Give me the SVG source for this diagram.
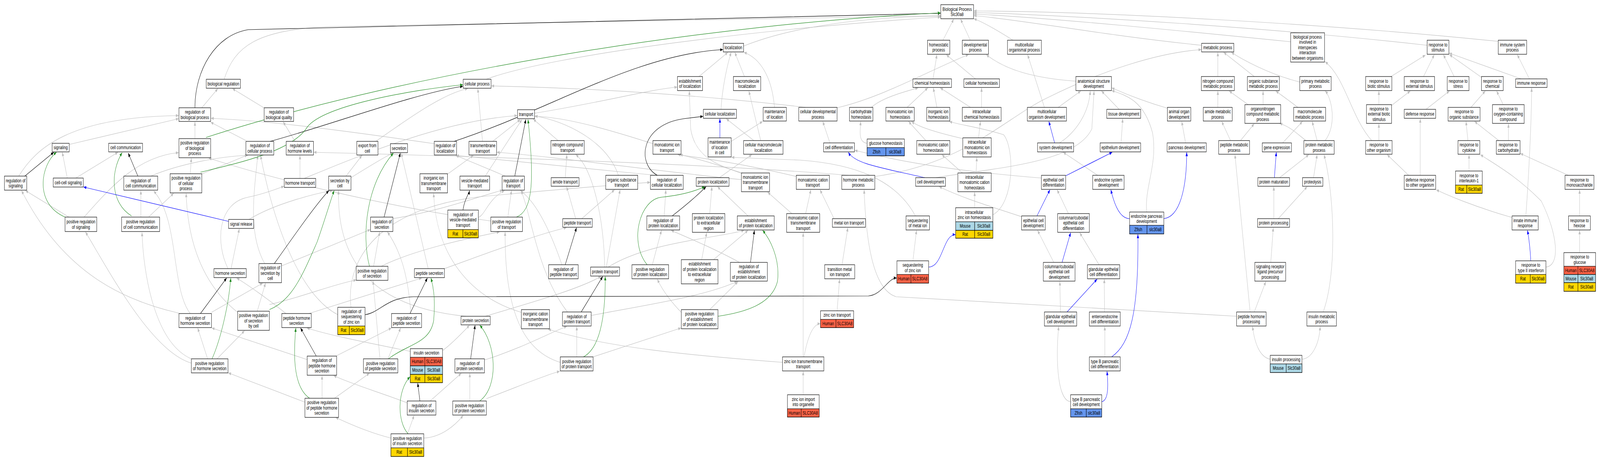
<svg xmlns="http://www.w3.org/2000/svg" width="5803" height="1173" viewBox="0 0 5803 1173" preserveAspectRatio="none">
<style>
svg{width:100vw;height:100vh}
text{font-family:"Liberation Sans",Arial,Helvetica,sans-serif;font-size:13px;text-anchor:middle;fill:#000}
.n rect{fill:#fff;stroke:#000;stroke-width:1.2}
.n rect.hu{fill:#FF6347}.n rect.mo{fill:#ADD8E6}.n rect.ra{fill:#FFD700}.n rect.zf{fill:#6495ED}
#connectors path{fill:none;stroke-width:1.2}
.g{stroke:#C0C0C0;marker-end:url(#ag)}
.k{stroke:#000;marker-end:url(#ak)}
.gr{stroke:#228B22;marker-end:url(#agr)}
.b{stroke:#0000FF;marker-end:url(#ab)}
</style>
<defs>
<marker id="ag" viewBox="0 0 10 8" refX="10" refY="4" markerWidth="10" markerHeight="8" markerUnits="userSpaceOnUse" orient="auto"><path d="M0,0L10,4L0,8z" fill="#C0C0C0"/></marker>
<marker id="ak" viewBox="0 0 10 8" refX="10" refY="4" markerWidth="10" markerHeight="8" markerUnits="userSpaceOnUse" orient="auto"><path d="M0,0L10,4L0,8z" fill="#000"/></marker>
<marker id="agr" viewBox="0 0 10 8" refX="10" refY="4" markerWidth="10" markerHeight="8" markerUnits="userSpaceOnUse" orient="auto"><path d="M0,0L10,4L0,8z" fill="#228B22"/></marker>
<marker id="ab" viewBox="0 0 10 8" refX="10" refY="4" markerWidth="10" markerHeight="8" markerUnits="userSpaceOnUse" orient="auto"><path d="M0,0L10,4L0,8z" fill="#0000FF"/></marker>
</defs>
<rect width="5803" height="1173" fill="#fff"/>
<g id="connectors">
<path class="g" d="M244,456L226,390"/>
<path class="g" d="M275,456L428,390"/>
<path class="g" d="M251,370L648,304"/>
<path class="g" d="M68,451C130,380 250,300 648,296"/>
<path class="g" d="M250,556L92,488"/>
<path class="g" d="M305,556C400,480 500,400 648,391"/>
<path class="g" d="M547,451C650,420 800,400 899,398"/>
<path class="g" d="M511,556L511,488"/>
<path class="g" d="M540,555L630,495"/>
<path class="g" d="M732,276L790,227"/>
<path class="g" d="M813,203C850,120 930,75 1200,68L3411,40"/>
<path class="g" d="M707,355L707,312"/>
<path class="g" d="M690,445L694,405"/>
<path class="g" d="M730,446L898,397"/>
<path class="g" d="M892,360L764,313"/>
<path class="g" d="M957,276L843,227"/>
<path class="g" d="M1070,362L1027,312"/>
<path class="g" d="M1088,457L1088,398"/>
<path class="g" d="M1103,457C1300,400 1600,310 1876,296"/>
<path class="g" d="M1363,362C1450,320 1600,240 1697,227"/>
<path class="g" d="M1255,451L1313,398"/>
<path class="g" d="M1273,455C1330,430 1400,400 1425,392"/>
<path class="g" d="M903,562C1000,520 1150,495 1205,488"/>
<path class="g" d="M838,688L868,586"/>
<path class="g" d="M827,688C780,620 790,520 900,505C950,498 1000,485 1030,477"/>
<path class="g" d="M649,802C450,770 230,700 78,488"/>
<path class="g" d="M690,803C620,740 650,560 557,489"/>
<path class="g" d="M767,800L953,725"/>
<path class="g" d="M753,919L717,840"/>
<path class="g" d="M787,919L887,847"/>
<path class="g" d="M697,920C560,880 520,700 515,595"/>
<path class="g" d="M694,930C550,900 400,700 310,594"/>
<path class="g" d="M1021,681L1343,588"/>
<path class="g" d="M960,675C900,600 920,500 935,398"/>
<path class="g" d="M933,797L963,725"/>
<path class="g" d="M862,800C720,720 680,600 675,495"/>
<path class="g" d="M977,780C1100,760 1200,730 1292,717"/>
<path class="g" d="M1425,560C1600,540 1750,500 1823,487"/>
<path class="g" d="M1355,682L1377,594"/>
<path class="g" d="M1383,682C1500,640 1700,610 1812,594"/>
<path class="g" d="M1225,806C1100,760 1000,600 945,398"/>
<path class="g" d="M1273,787C1250,650 1400,520 1800,500C2100,480 2300,470 2358,467"/>
<path class="g" d="M1037,803C980,770 900,730 858,712"/>
<path class="g" d="M1120,803L1530,712"/>
<path class="g" d="M1114,921L768,840"/>
<path class="g" d="M1221,911L1420,840"/>
<path class="g" d="M1168,1020L1168,962"/>
<path class="g" d="M1213,1020L1340,956"/>
<path class="g" d="M1106,1030L828,955"/>
<path class="g" d="M1407,919L1453,840"/>
<path class="g" d="M1378,919L1353,719"/>
<path class="g" d="M1490,803C1480,700 1450,640 1405,594"/>
<path class="g" d="M1553,688L1455,392"/>
<path class="g" d="M1612,688C1800,640 1950,600 2055,583"/>
<path class="g" d="M1488,900C1350,880 1200,860 1113,840"/>
<path class="g" d="M1605,898C1640,880 1680,850 1703,833"/>
<path class="g" d="M1477,1032C1400,1010 1280,985 1210,962"/>
<path class="g" d="M1560,1027L1673,956"/>
<path class="g" d="M1478,1111L1502,1064"/>
<path class="g" d="M1418,1122C1350,1110 1280,1090 1217,1069"/>
<path class="g" d="M1537,1122C1600,1120 1650,1090 1680,1064"/>
<path class="g" d="M1757,922C1900,890 2000,850 2056,836"/>
<path class="g" d="M1704,1027L1704,956"/>
<path class="g" d="M1764,1021C1880,990 1980,960 2030,951"/>
<path class="g" d="M1760,810C1950,770 2100,740 2180,708"/>
<path class="g" d="M1690,810C1400,790 1220,700 1228,488"/>
<path class="g" d="M1623,446L1717,398"/>
<path class="g" d="M1750,362L1733,227"/>
<path class="g" d="M1787,362L1887,306"/>
<path class="g" d="M1760,451L1893,306"/>
<path class="g" d="M1735,557C1760,550 1770,510 1830,488"/>
<path class="g" d="M1833,451L1653,398"/>
<path class="g" d="M1842,556L1855,488"/>
<path class="g" d="M1780,566C1400,530 1000,460 757,405"/>
<path class="g" d="M1575,368C1300,340 1000,310 765,303"/>
<path class="g" d="M2024,360L1934,305"/>
<path class="g" d="M2050,455L2056,396"/>
<path class="g" d="M2088,560L2055,478"/>
<path class="g" d="M2110,560L2229,486"/>
<path class="g" d="M2243,449C2200,360 2050,310 1940,297"/>
<path class="g" d="M2193,684C2190,560 2150,430 2088,396"/>
<path class="g" d="M2199,684L2249,486"/>
<path class="g" d="M2206,684C2350,620 2600,610 2699,590"/>
<path class="g" d="M2038,678C2000,600 1950,520 1887,488"/>
<path class="g" d="M2144,808C2350,780 2550,760 2674,721"/>
<path class="g" d="M2058,799C1950,700 1930,560 1890,488"/>
<path class="g" d="M2092,914L2092,836"/>
<path class="g" d="M2032,928C1900,900 1830,800 1832,594"/>
<path class="g" d="M2151,914L2470,840"/>
<path class="g" d="M1891,800C1700,760 1580,650 1573,495"/>
<path class="g" d="M2409,553L2415,486"/>
<path class="g" d="M2366,678L2399,590"/>
<path class="g" d="M2381,449C2100,430 1800,410 1655,398"/>
<path class="g" d="M2368,368C2200,330 2050,300 1940,298"/>
<path class="g" d="M2693,445C2600,420 2520,405 2466,396"/>
<path class="g" d="M2689,460C2400,440 2000,400 1802,390"/>
<path class="g" d="M2888,452C2700,420 2550,405 2458,396"/>
<path class="g" d="M2922,547L2941,486"/>
<path class="g" d="M2872,547L2784,492"/>
<path class="g" d="M3025,560L2974,486"/>
<path class="g" d="M3054,678L3075,583"/>
<path class="g" d="M3036,796L3045,715"/>
<path class="g" d="M2916,914C2930,860 2950,830 2975,829"/>
<path class="g" d="M2913,914L2913,596"/>
<path class="g" d="M2838,928C2500,910 2200,890 1988,843"/>
<path class="g" d="M2913,1011L2913,951"/>
<path class="g" d="M2713,553L2602,478"/>
<path class="g" d="M2693,443C2600,425 2520,400 2505,330L2500,233"/>
<path class="g" d="M2574,547L2582,478"/>
<path class="g" d="M2545,665L2563,596"/>
<path class="g" d="M2588,665L2713,590"/>
<path class="g" d="M2682,672C2600,640 2500,610 2434,590"/>
<path class="g" d="M2574,793L2677,721"/>
<path class="g" d="M2471,800C2430,770 2400,740 2384,715"/>
<path class="g" d="M2652,362L2766,311"/>
<path class="g" d="M2809,275C2800,200 2760,150 2698,134"/>
<path class="g" d="M2759,360L2716,233"/>
<path class="g" d="M2734,360L2634,304"/>
<path class="g" d="M2609,455L2727,396"/>
<path class="g" d="M2535,196L2640,134"/>
<path class="g" d="M2700,196L2665,134"/>
<path class="g" d="M2615,280C2620,220 2640,160 2652,134"/>
<path class="g" d="M1939,290C2200,260 2350,230 2456,223"/>
<path class="g" d="M3320,553C3250,460 3100,420 2900,410L2653,403"/>
<path class="g" d="M3311,668L3324,590"/>
<path class="g" d="M2697,118C2900,60 3200,42 3411,42"/>
<path class="g" d="M1763,203C2000,140 2800,70 3411,44"/>
<path class="g" d="M3420,103L3459,49"/>
<path class="g" d="M3519,103L3484,49"/>
<path class="g" d="M3674,103C3600,70 3560,55 3532,48"/>
<path class="g" d="M4358,116C4000,90 3700,50 3532,40"/>
<path class="g" d="M4681,107C4300,80 3800,45 3532,36"/>
<path class="g" d="M5176,116C4600,70 3900,40 3532,32"/>
<path class="g" d="M5434,106C4800,60 4000,30 3532,28"/>
<path class="g" d="M3384,202L3398,140"/>
<path class="g" d="M3538,202L3432,140"/>
<path class="g" d="M3160,275C3200,250 3280,235 3330,225"/>
<path class="g" d="M3290,275L3365,225"/>
<path class="g" d="M3398,275L3385,225"/>
<path class="g" d="M3520,275L3410,225"/>
<path class="g" d="M3560,275L3560,225"/>
<path class="g" d="M3145,367C3115,365 3118,340 3122,311"/>
<path class="g" d="M3358,360L3295,311"/>
<path class="g" d="M3549,353L3556,311"/>
<path class="g" d="M3492,355C3400,340 3330,325 3306,311"/>
<path class="g" d="M3540,443L3543,403"/>
<path class="g" d="M3491,443L3416,396"/>
<path class="g" d="M3535,532L3535,492"/>
<path class="g" d="M3601,550C3680,520 3680,380 3640,345C3550,325 3480,320 3443,311"/>
<path class="g" d="M3010,366L2984,311"/>
<path class="g" d="M3036,276C3200,250 3400,170 3513,140"/>
<path class="g" d="M2922,275C2500,240 2100,225 1782,220"/>
<path class="g" d="M3395,455C3600,430 3900,420 3960,330L3968,233"/>
<path class="g" d="M3077,449C2600,420 1700,400 1138,390"/>
<path class="g" d="M3173,452C3500,420 3650,300 3800,250C4000,180 4200,135 4357,127"/>
<path class="g" d="M4485,810C4000,790 3500,770 3250,760C3160,740 3140,600 3134,486"/>
<path class="g" d="M4534,799L4479,396"/>
<path class="g" d="M4549,799L4591,721"/>
<path class="g" d="M4607,920C4570,915 4550,880 4543,836"/>
<path class="g" d="M4722,920C4760,918 4785,880 4788,836"/>
<path class="g" d="M4799,799C4850,700 4840,500 4802,396"/>
<path class="g" d="M4609,672L4618,583"/>
<path class="g" d="M4620,560L4620,478"/>
<path class="g" d="M4636,560L4741,478"/>
<path class="g" d="M4641,455L4747,396"/>
<path class="g" d="M4652,366L4724,311"/>
<path class="g" d="M4777,360L4759,311"/>
<path class="g" d="M4806,360C4850,320 4830,250 4806,233"/>
<path class="g" d="M4740,362C4700,340 4680,325 4641,316"/>
<path class="g" d="M4764,455L4777,396"/>
<path class="g" d="M4709,276C4680,260 4650,245 4627,233"/>
<path class="g" d="M4714,210C4600,190 4500,150 4466,134"/>
<path class="g" d="M4463,360L4431,311"/>
<path class="g" d="M4499,360L4549,317"/>
<path class="g" d="M4417,275L4417,233"/>
<path class="g" d="M4527,268L4458,233"/>
<path class="g" d="M4581,268L4581,233"/>
<path class="g" d="M4417,196L4417,134"/>
<path class="g" d="M4549,196L4438,134"/>
<path class="g" d="M4238,278C4150,260 4080,240 4032,225"/>
<path class="g" d="M4159,543C4150,480 4200,420 4180,340C4150,260 4090,245 4032,232"/>
<path class="g" d="M4300,366L4286,311"/>
<path class="g" d="M3788,275L3727,140"/>
<path class="g" d="M3838,275L3920,233"/>
<path class="g" d="M3843,366C3900,340 3950,290 3954,233"/>
<path class="g" d="M3902,208C3750,200 3650,180 3577,140"/>
<path class="g" d="M4059,280L3995,233"/>
<path class="g" d="M4066,366L4072,304"/>
<path class="g" d="M3981,449L3856,390"/>
<path class="g" d="M3777,456C3500,440 3300,420 3100,385"/>
<path class="g" d="M3705,555C3600,530 3500,510 3406,478"/>
<path class="g" d="M3875,547L3834,486"/>
<path class="g" d="M3822,672L3763,590"/>
<path class="g" d="M3986,678L3916,596"/>
<path class="g" d="M3846,799L3844,721"/>
<path class="g" d="M4006,799L4005,715"/>
<path class="g" d="M4007,914L4007,836"/>
<path class="g" d="M3883,1029C3830,1025 3830,900 3840,836"/>
<path class="g" d="M4975,360C4900,300 4880,200 4806,158"/>
<path class="g" d="M5001,360L5001,317"/>
<path class="g" d="M5001,268L5001,233"/>
<path class="g" d="M5047,270L5115,233"/>
<path class="g" d="M5045,196L5170,141"/>
<path class="g" d="M5163,196L5202,140"/>
<path class="g" d="M5172,280L5257,233"/>
<path class="g" d="M5151,449L5151,304"/>
<path class="g" d="M5109,449L5031,396"/>
<path class="g" d="M5484,557C5350,530 5250,500 5209,486"/>
<path class="g" d="M5534,553C5545,450 5555,300 5555,225"/>
<path class="g" d="M5607,684C5660,680 5650,600 5590,515C5500,450 5420,420 5369,396"/>
<path class="g" d="M5274,196L5235,140"/>
<path class="g" d="M5373,198L5257,140"/>
<path class="g" d="M5517,202L5256,136"/>
<path class="g" d="M5547,202L5503,140"/>
<path class="g" d="M5335,275L5387,233"/>
<path class="g" d="M5452,268L5428,233"/>
<path class="g" d="M5324,360L5317,311"/>
<path class="g" d="M5436,360L5348,311"/>
<path class="g" d="M5471,360L5471,317"/>
<path class="g" d="M5328,438L5328,396"/>
<path class="g" d="M5688,449L5514,393"/>
<path class="g" d="M5729,553L5729,486"/>
<path class="g" d="M5729,647L5729,590"/>
<path class="k" d="M90,451L195,390"/>
<path class="k" d="M500,451L465,392"/>
<path class="k" d="M707,276C707,180 780,90 900,76L3411,34"/>
<path class="k" d="M980,362C1200,320 1500,240 1679,221"/>
<path class="k" d="M727,803L822,712"/>
<path class="k" d="M995,675C1080,590 1150,520 1193,488"/>
<path class="k" d="M1393,556L1452,392"/>
<path class="k" d="M1647,362C2000,280 2300,140 2622,127"/>
<path class="k" d="M1867,451L1907,306"/>
<path class="k" d="M1679,538C1685,510 1700,498 1703,488"/>
<path class="k" d="M1487,803L1550,712"/>
<path class="k" d="M1147,912L1090,840"/>
<path class="k" d="M1523,1027L1515,981"/>
<path class="k" d="M1707,919L1723,833"/>
<path class="k" d="M2050,678L2091,583"/>
<path class="k" d="M2108,799L2186,708"/>
<path class="k" d="M2384,449C2310,420 2320,320 2480,304L2550,298"/>
<path class="k" d="M2438,553C2480,530 2530,500 2561,478"/>
<path class="k" d="M2722,672L2736,590"/>
<path class="k" d="M1324,806C1380,800 1400,762 1500,760L3150,758C3200,755 3220,712 3252,712"/>
<path class="gr" d="M236,556C120,520 150,420 205,390"/>
<path class="gr" d="M477,553C400,520 400,440 443,391"/>
<path class="gr" d="M747,352C1500,180 2600,60 3411,33"/>
<path class="gr" d="M727,441C850,420 1050,390 1110,330C1160,270 1500,230 1679,217"/>
<path class="gr" d="M769,919C800,870 830,780 837,712"/>
<path class="gr" d="M977,793C1060,770 1100,700 1150,620C1180,560 1200,510 1212,488"/>
<path class="gr" d="M1340,682C1310,600 1330,470 1427,392"/>
<path class="gr" d="M1873,556C1930,540 1940,470 1915,306"/>
<path class="gr" d="M1407,920C1480,880 1560,880 1573,820C1580,760 1570,730 1563,712"/>
<path class="gr" d="M1123,1020C1060,990 1065,900 1073,840"/>
<path class="gr" d="M1480,1111C1440,1080 1440,1000 1487,965"/>
<path class="gr" d="M1740,1027C1810,990 1800,880 1740,833"/>
<path class="gr" d="M2116,914C2180,890 2196,800 2195,708"/>
<path class="gr" d="M2347,678C2280,620 2320,510 2400,505C2470,500 2520,490 2556,478"/>
<path class="gr" d="M2604,810C2700,800 2800,780 2820,720C2830,660 2790,610 2766,590"/>
<path class="b" d="M829,567L303,479"/>
<path class="b" d="M2611,353L2611,304"/>
<path class="b" d="M3354,455C3200,430 3100,420 3077,390"/>
<path class="b" d="M3368,684C3420,684 3420,600 3465,601"/>
<path class="b" d="M3825,366L3804,311"/>
<path class="b" d="M3866,450L4034,390"/>
<path class="b" d="M3761,553L3808,486"/>
<path class="b" d="M3852,672L3883,596"/>
<path class="b" d="M3870,799L3979,715"/>
<path class="b" d="M4097,560C4060,560 4040,520 4029,486"/>
<path class="b" d="M4032,914C4100,880 4130,800 4127,600"/>
<path class="b" d="M3996,1029C4020,1025 4020,990 4015,951"/>
<path class="b" d="M4221,560C4280,555 4304,480 4304,390"/>
<path class="b" d="M4622,455L4629,390"/>
<path class="b" d="M5552,668C5550,640 5545,610 5540,590"/>
</g>
<g id="nodes">
<g id="n_regsig" class="n"><rect x="16" y="451" width="81" height="36"/><text x="56.5" y="466.8">regulation of<tspan x="56.5" dy="13.5">signaling</tspan></text></g>
<g id="n_sig" class="n"><rect x="189" y="367" width="62" height="22"/><text x="220" y="382.5">signaling</text></g>
<g id="n_cellcell" class="n"><rect x="193" y="456" width="109" height="23"/><text x="247.5" y="472">cell-cell signaling</text></g>
<g id="n_cellcomm" class="n"><rect x="394" y="367" width="123" height="22"/><text x="455.5" y="382.5">cell communication</text></g>
<g id="n_posregsig" class="n"><rect x="236" y="556" width="115" height="37"/><text x="293.5" y="572.3">positive regulation<tspan x="293.5" dy="13.5">of signaling</tspan></text></g>
<g id="n_regcc" class="n"><rect x="449" y="451" width="123" height="36"/><text x="510.5" y="466.8">regulation of<tspan x="510.5" dy="13.5">cell communication</tspan></text></g>
<g id="n_posregcc" class="n"><rect x="441" y="556" width="138" height="37"/><text x="510" y="572.3">positive regulation<tspan x="510" dy="13.5">of cell communication</tspan></text></g>
<g id="n_biolreg" class="n"><rect x="748" y="203" width="124" height="23"/><text x="810" y="219">biological regulation</text></g>
<g id="n_regbp" class="n"><rect x="649" y="276" width="115" height="35"/><text x="706.5" y="291.3">regulation of<tspan x="706.5" dy="13.5">biological process</tspan></text></g>
<g id="n_posregbp" class="n"><rect x="649" y="355" width="115" height="49"/><text x="706.5" y="370.5">positive regulation<tspan x="706.5" dy="13.5">of biological</tspan><tspan x="706.5" dy="13.5">process</tspan></text></g>
<g id="n_posregcp" class="n"><rect x="617" y="445" width="115" height="49"/><text x="674.5" y="460.5">positive regulation<tspan x="674.5" dy="13.5">of cellular</tspan><tspan x="674.5" dy="13.5">process</tspan></text></g>
<g id="n_sigrel" class="n"><rect x="829" y="562" width="91" height="23"/><text x="874.5" y="578">signal release</text></g>
<g id="n_hormsec" class="n"><rect x="776" y="688" width="117" height="23"/><text x="834.5" y="704">hormone secretion</text></g>
<g id="n_reghormsec" class="n"><rect x="649" y="803" width="118" height="36"/><text x="708" y="818.8">regulation of<tspan x="708" dy="13.5">hormone secretion</tspan></text></g>
<g id="n_posreghormsec" class="n"><rect x="694" y="919" width="133" height="36"/><text x="760.5" y="934.8">positive regulation<tspan x="760.5" dy="13.5">of hormone secretion</tspan></text></g>
<g id="n_regcp" class="n"><rect x="892" y="362" width="101" height="35"/><text x="942.5" y="377.3">regulation of<tspan x="942.5" dy="13.5">cellular process</tspan></text></g>
<g id="n_regbq" class="n"><rect x="958" y="276" width="107" height="35"/><text x="1011.5" y="291.3">regulation of<tspan x="1011.5" dy="13.5">biological quality</tspan></text></g>
<g id="n_regsecbc" class="n"><rect x="939" y="675" width="82" height="49"/><text x="980" y="690.5">regulation of<tspan x="980" dy="13.5">secretion by</tspan><tspan x="980" dy="13.5">cell</tspan></text></g>
<g id="n_posregsecbc" class="n"><rect x="862" y="797" width="115" height="49"/><text x="919.5" y="812.5">positive regulation<tspan x="919.5" dy="13.5">of secretion</tspan><tspan x="919.5" dy="13.5">by cell</tspan></text></g>
<g id="n_reghormlev" class="n"><rect x="1038" y="362" width="99" height="35"/><text x="1087.5" y="377.3">regulation of<tspan x="1087.5" dy="13.5">hormone levels</tspan></text></g>
<g id="n_hormtr" class="n"><rect x="1031" y="457" width="114" height="23"/><text x="1088" y="473">hormone transport</text></g>
<g id="n_export" class="n"><rect x="1294" y="362" width="77" height="35"/><text x="1332.5" y="377.3">export from<tspan x="1332.5" dy="13.5">cell</tspan></text></g>
<g id="n_secbc" class="n"><rect x="1192" y="451" width="81" height="36"/><text x="1232.5" y="466.8">secretion by<tspan x="1232.5" dy="13.5">cell</tspan></text></g>
<g id="n_sec" class="n"><rect x="1416" y="368" width="62" height="23"/><text x="1447" y="384">secretion</text></g>
<g id="n_regsec" class="n"><rect x="1344" y="556" width="81" height="37"/><text x="1384.5" y="572.3">regulation of<tspan x="1384.5" dy="13.5">secretion</tspan></text></g>
<g id="n_posregsec" class="n"><rect x="1292" y="682" width="115" height="36"/><text x="1349.5" y="697.8">positive regulation<tspan x="1349.5" dy="13.5">of secretion</tspan></text></g>
<g id="n_regseqzn" class="n"><rect x="1225" y="787" width="99" height="70"/><rect class="ra" x="1225" y="835" width="42" height="22"/><rect class="ra" x="1267" y="835" width="57" height="22"/><text x="1274.5" y="802">regulation of<tspan x="1274.5" dy="13.5">sequestering</tspan><tspan x="1274.5" dy="13.5">of zinc ion</tspan></text><text x="1246" y="850.5">Rat</text><text x="1295.5" y="850.5">Slc30a8</text></g>
<g id="n_pephormsec" class="n"><rect x="1022" y="803" width="107" height="36"/><text x="1075.5" y="818.8">peptide hormone<tspan x="1075.5" dy="13.5">secretion</tspan></text></g>
<g id="n_regpephormsec" class="n"><rect x="1114" y="912" width="107" height="49"/><text x="1167.5" y="927.5">regulation of<tspan x="1167.5" dy="13.5">peptide hormone</tspan><tspan x="1167.5" dy="13.5">secretion</tspan></text></g>
<g id="n_posregpephormsec" class="n"><rect x="1106" y="1020" width="122" height="49"/><text x="1167" y="1035.5">positive regulation<tspan x="1167" dy="13.5">of peptide hormone</tspan><tspan x="1167" dy="13.5">secretion</tspan></text></g>
<g id="n_posregpepsec" class="n"><rect x="1318" y="919" width="125" height="36"/><text x="1380.5" y="934.8">positive regulation<tspan x="1380.5" dy="13.5">of peptide secretion</tspan></text></g>
<g id="n_regpepsec" class="n"><rect x="1420" y="803" width="109" height="36"/><text x="1474.5" y="818.8">regulation of<tspan x="1474.5" dy="13.5">peptide secretion</tspan></text></g>
<g id="n_posreginssec" class="n"><rect x="1418" y="1111" width="119" height="58"/><rect class="ra" x="1418" y="1147" width="60" height="22"/><rect class="ra" x="1478" y="1147" width="59" height="22"/><text x="1477.5" y="1126.8">positive regulation<tspan x="1477.5" dy="13.5">of insulin secretion</tspan></text><text x="1448" y="1162.5">Rat</text><text x="1507.5" y="1162.5">Slc30a8</text></g>
<g id="n_cellproc" class="n"><rect x="1680" y="203" width="101" height="23"/><text x="1730.5" y="219">cellular process</text></g>
<g id="n_transport" class="n"><rect x="1877" y="281" width="62" height="23"/><text x="1908" y="297">transport</text></g>
<g id="n_regloc" class="n"><rect x="1575" y="362" width="81" height="35"/><text x="1615.5" y="377.3">regulation of<tspan x="1615.5" dy="13.5">localization</tspan></text></g>
<g id="n_tmt" class="n"><rect x="1701" y="362" width="100" height="35"/><text x="1751" y="377.3">transmembrane<tspan x="1751" dy="13.5">transport</tspan></text></g>
<g id="n_inorgiontmt" class="n"><rect x="1523" y="445" width="100" height="49"/><text x="1573" y="460.5">inorganic ion<tspan x="1573" dy="13.5">transmembrane</tspan><tspan x="1573" dy="13.5">transport</tspan></text></g>
<g id="n_vesmed" class="n"><rect x="1668" y="451" width="108" height="36"/><text x="1722" y="466.8">vesicle-mediated<tspan x="1722" dy="13.5">transport</tspan></text></g>
<g id="n_regtr" class="n"><rect x="1821" y="451" width="81" height="36"/><text x="1861.5" y="466.8">regulation of<tspan x="1861.5" dy="13.5">transport</tspan></text></g>
<g id="n_regvesmed" class="n"><rect x="1624" y="538" width="111" height="71"/><rect class="ra" x="1624" y="588" width="55" height="21"/><rect class="ra" x="1679" y="588" width="56" height="21"/><text x="1679.5" y="554">regulation of<tspan x="1679.5" dy="13.5">vesicle-mediated</tspan><tspan x="1679.5" dy="13.5">transport</tspan></text><text x="1651.5" y="603">Rat</text><text x="1707" y="603">Slc30a8</text></g>
<g id="n_posregtr" class="n"><rect x="1780" y="556" width="115" height="37"/><text x="1837.5" y="572.3">positive regulation<tspan x="1837.5" dy="13.5">of transport</tspan></text></g>
<g id="n_pepsec" class="n"><rect x="1503" y="688" width="109" height="23"/><text x="1557.5" y="704">peptide secretion</text></g>
<g id="n_protsec" class="n"><rect x="1672" y="810" width="106" height="22"/><text x="1725" y="825.5">protein secretion</text></g>
<g id="n_inorgcattmt" class="n"><rect x="1891" y="793" width="102" height="49"/><text x="1942" y="808.5">inorganic cation<tspan x="1942" dy="13.5">transmembrane</tspan><tspan x="1942" dy="13.5">transport</tspan></text></g>
<g id="n_inssec" class="n"><rect x="1488" y="893" width="117" height="87"/><rect class="hu" x="1488" y="915" width="53" height="22"/><rect class="hu" x="1541" y="915" width="64" height="22"/><rect class="mo" x="1488" y="937" width="53" height="22"/><rect class="mo" x="1541" y="937" width="64" height="22"/><rect class="ra" x="1488" y="959" width="53" height="21"/><rect class="ra" x="1541" y="959" width="64" height="21"/><text x="1546.5" y="908.5">insulin secretion</text><text x="1514.5" y="930.5">Human</text><text x="1573" y="930.5">SLC30A8</text><text x="1514.5" y="952.5">Mouse</text><text x="1573" y="952.5">Slc30a8</text><text x="1514.5" y="974">Rat</text><text x="1573" y="974">Slc30a8</text></g>
<g id="n_regprotsec" class="n"><rect x="1650" y="919" width="107" height="36"/><text x="1703.5" y="934.8">regulation of<tspan x="1703.5" dy="13.5">protein secretion</tspan></text></g>
<g id="n_reginssec" class="n"><rect x="1477" y="1027" width="104" height="36"/><text x="1529" y="1042.8">regulation of<tspan x="1529" dy="13.5">insulin secretion</tspan></text></g>
<g id="n_posregprotsec" class="n"><rect x="1642" y="1027" width="122" height="36"/><text x="1703" y="1042.8">positive regulation<tspan x="1703" dy="13.5">of protein secretion</tspan></text></g>
<g id="n_nitrotr" class="n"><rect x="1998" y="360" width="121" height="35"/><text x="2058.5" y="375.3">nitrogen compound<tspan x="2058.5" dy="13.5">transport</tspan></text></g>
<g id="n_amidetr" class="n"><rect x="1999" y="455" width="101" height="22"/><text x="2049.5" y="470.5">amide transport</text></g>
<g id="n_orgsubtr" class="n"><rect x="2197" y="449" width="116" height="36"/><text x="2255" y="464.8">organic substance<tspan x="2255" dy="13.5">transport</tspan></text></g>
<g id="n_monoiontr" class="n"><rect x="2368" y="360" width="102" height="35"/><text x="2419" y="375.3">monoatomic ion<tspan x="2419" dy="13.5">transport</tspan></text></g>
<g id="n_regcellloc" class="n"><rect x="2359" y="449" width="119" height="36"/><text x="2418.5" y="464.8">regulation of<tspan x="2418.5" dy="13.5">cellular localization</tspan></text></g>
<g id="n_peptr" class="n"><rect x="2041" y="560" width="107" height="22"/><text x="2094.5" y="575.5">peptide transport</text></g>
<g id="n_regprotloc" class="n"><rect x="2346" y="553" width="119" height="36"/><text x="2405.5" y="568.8">regulation of<tspan x="2405.5" dy="13.5">protein localization</tspan></text></g>
<g id="n_regpeptr" class="n"><rect x="1990" y="678" width="107" height="36"/><text x="2043.5" y="693.8">regulation of<tspan x="2043.5" dy="13.5">peptide transport</tspan></text></g>
<g id="n_prottr" class="n"><rect x="2142" y="684" width="105" height="23"/><text x="2194.5" y="700">protein transport</text></g>
<g id="n_posregprotloc" class="n"><rect x="2292" y="678" width="133" height="36"/><text x="2358.5" y="693.8">positive regulation<tspan x="2358.5" dy="13.5">of protein localization</tspan></text></g>
<g id="n_regprottr" class="n"><rect x="2040" y="799" width="104" height="36"/><text x="2092" y="814.8">regulation of<tspan x="2092" dy="13.5">protein transport</tspan></text></g>
<g id="n_posregprottr" class="n"><rect x="2032" y="914" width="119" height="36"/><text x="2091.5" y="929.8">positive regulation<tspan x="2091.5" dy="13.5">of protein transport</tspan></text></g>
<g id="n_estloc" class="n"><rect x="2457" y="196" width="91" height="36"/><text x="2502.5" y="211.8">establishment<tspan x="2502.5" dy="13.5">of localization</tspan></text></g>
<g id="n_loc" class="n"><rect x="2623" y="111" width="74" height="22"/><text x="2660" y="126.5">localization</text></g>
<g id="n_macroloc" class="n"><rect x="2660" y="196" width="99" height="36"/><text x="2709.5" y="211.8">macromolecule<tspan x="2709.5" dy="13.5">localization</tspan></text></g>
<g id="n_cellloc" class="n"><rect x="2551" y="280" width="120" height="23"/><text x="2611" y="296">cellular localization</text></g>
<g id="n_mainloc" class="n"><rect x="2768" y="275" width="84" height="35"/><text x="2810" y="290.3">maintenance<tspan x="2810" dy="13.5">of location</tspan></text></g>
<g id="n_celldevproc" class="n"><rect x="2897" y="275" width="139" height="35"/><text x="2966.5" y="290.3">cellular developmental<tspan x="2966.5" dy="13.5">process</tspan></text></g>
<g id="n_mainloccell" class="n"><rect x="2568" y="353" width="84" height="49"/><text x="2610" y="368.5">maintenance<tspan x="2610" dy="13.5">of location</tspan><tspan x="2610" dy="13.5">in cell</tspan></text></g>
<g id="n_cellmacroloc" class="n"><rect x="2697" y="360" width="143" height="35"/><text x="2768.5" y="375.3">cellular macromolecule<tspan x="2768.5" dy="13.5">localization</tspan></text></g>
<g id="n_celldiff" class="n"><rect x="2987" y="366" width="112" height="23"/><text x="3043" y="382">cell differentiation</text></g>
<g id="n_protloc" class="n"><rect x="2525" y="455" width="119" height="22"/><text x="2584.5" y="470.5">protein localization</text></g>
<g id="n_monoiontmt" class="n"><rect x="2689" y="443" width="102" height="48"/><text x="2740" y="458">monoatomic ion<tspan x="2740" dy="13.5">transmembrane</tspan><tspan x="2740" dy="13.5">transport</tspan></text></g>
<g id="n_monocattr" class="n"><rect x="2888" y="449" width="120" height="36"/><text x="2948" y="464.8">monoatomic cation<tspan x="2948" dy="13.5">transport</tspan></text></g>
<g id="n_protlocext" class="n"><rect x="2511" y="547" width="118" height="48"/><text x="2570" y="562">protein localization<tspan x="2570" dy="13.5">to extracellular</tspan><tspan x="2570" dy="13.5">region</tspan></text></g>
<g id="n_estprotloc" class="n"><rect x="2674" y="553" width="134" height="36"/><text x="2741" y="568.8">establishment<tspan x="2741" dy="13.5">of protein localization</tspan></text></g>
<g id="n_monocattmt" class="n"><rect x="2853" y="547" width="120" height="48"/><text x="2913" y="562">monoatomic cation<tspan x="2913" dy="13.5">transmembrane</tspan><tspan x="2913" dy="13.5">transport</tspan></text></g>
<g id="n_metaliontr" class="n"><rect x="3019" y="560" width="120" height="22"/><text x="3079" y="575.5">metal ion transport</text></g>
<g id="n_estprotlocext" class="n"><rect x="2471" y="665" width="133" height="62"/><text x="2537.5" y="680.3">establishment<tspan x="2537.5" dy="13.5">of protein localization</tspan><tspan x="2537.5" dy="13.5">to extracellular</tspan><tspan x="2537.5" dy="13.5">region</tspan></text></g>
<g id="n_regestprotloc" class="n"><rect x="2649" y="672" width="134" height="48"/><text x="2716" y="687">regulation of<tspan x="2716" dy="13.5">establishment</tspan><tspan x="2716" dy="13.5">of protein localization</tspan></text></g>
<g id="n_transmetal" class="n"><rect x="2991" y="678" width="109" height="36"/><text x="3045.5" y="693.8">transition metal<tspan x="3045.5" dy="13.5">ion transport</tspan></text></g>
<g id="n_posregestprotloc" class="n"><rect x="2471" y="793" width="133" height="49"/><text x="2537.5" y="808.5">positive regulation<tspan x="2537.5" dy="13.5">of establishment</tspan><tspan x="2537.5" dy="13.5">of protein localization</tspan></text></g>
<g id="n_zntr" class="n"><rect x="2976" y="796" width="120" height="43"/><rect class="hu" x="2976" y="818" width="56" height="21"/><rect class="hu" x="3032" y="818" width="64" height="21"/><text x="3036" y="811.5">zinc ion transport</text><text x="3004" y="833">Human</text><text x="3064" y="833">SLC30A8</text></g>
<g id="n_zntmt" class="n"><rect x="2838" y="914" width="150" height="36"/><text x="2913" y="929.8">zinc ion transmembrane<tspan x="2913" dy="13.5">transport</tspan></text></g>
<g id="n_znimport" class="n"><rect x="2856" y="1011" width="115" height="57"/><rect class="hu" x="2856" y="1047" width="50" height="21"/><rect class="hu" x="2906" y="1047" width="65" height="21"/><text x="2913.5" y="1026.8">zinc ion import<tspan x="2913.5" dy="13.5">into organelle</tspan></text><text x="2881" y="1062">Human</text><text x="2938.5" y="1062">SLC30A8</text></g>
<g id="n_root" class="n"><rect x="3412" y="12" width="119" height="36"/><text x="3471.5" y="27.8">Biological Process<tspan x="3471.5" dy="13.5">Slc30a8</tspan></text></g>
<g id="n_homeoproc" class="n"><rect x="3364" y="103" width="81" height="36"/><text x="3404.5" y="118.8">homeostatic<tspan x="3404.5" dy="13.5">process</tspan></text></g>
<g id="n_devproc" class="n"><rect x="3490" y="103" width="95" height="36"/><text x="3537.5" y="118.8">developmental<tspan x="3537.5" dy="13.5">process</tspan></text></g>
<g id="n_chemhomeo" class="n"><rect x="3311" y="202" width="140" height="22"/><text x="3381" y="217.5">chemical homeostasis</text></g>
<g id="n_cellhomeo" class="n"><rect x="3496" y="202" width="129" height="22"/><text x="3560.5" y="217.5">cellular homeostasis</text></g>
<g id="n_carbhomeo" class="n"><rect x="3081" y="275" width="85" height="35"/><text x="3123.5" y="290.3">carbohydrate<tspan x="3123.5" dy="13.5">homeostasis</tspan></text></g>
<g id="n_monoionhomeo" class="n"><rect x="3213" y="275" width="103" height="35"/><text x="3264.5" y="290.3">monoatomic ion<tspan x="3264.5" dy="13.5">homeostasis</tspan></text></g>
<g id="n_inorgionhomeo" class="n"><rect x="3361" y="275" width="84" height="35"/><text x="3403" y="290.3">inorganic ion<tspan x="3403" dy="13.5">homeostasis</tspan></text></g>
<g id="n_intrachemhomeo" class="n"><rect x="3490" y="275" width="141" height="35"/><text x="3560.5" y="290.3">intracellular<tspan x="3560.5" dy="13.5">chemical homeostasis</tspan></text></g>
<g id="n_glucosehomeo" class="n"><rect x="3145" y="356" width="135" height="43"/><rect class="zf" x="3145" y="378" width="68" height="21"/><rect class="zf" x="3213" y="378" width="67" height="21"/><text x="3212.5" y="371.5">glucose homeostasis</text><text x="3179" y="393">Zfish</text><text x="3246.5" y="393">slc30a8</text></g>
<g id="n_monocathomeo" class="n"><rect x="3325" y="360" width="120" height="35"/><text x="3385" y="375.3">monoatomic cation<tspan x="3385" dy="13.5">homeostasis</tspan></text></g>
<g id="n_intramonoionhomeo" class="n"><rect x="3492" y="353" width="103" height="49"/><text x="3543.5" y="368.5">intracellular<tspan x="3543.5" dy="13.5">monoatomic ion</tspan><tspan x="3543.5" dy="13.5">homeostasis</tspan></text></g>
<g id="n_hormmetab" class="n"><rect x="3053" y="449" width="120" height="36"/><text x="3113" y="464.8">hormone metabolic<tspan x="3113" dy="13.5">process</tspan></text></g>
<g id="n_celldev" class="n"><rect x="3321" y="455" width="108" height="22"/><text x="3375" y="470.5">cell development</text></g>
<g id="n_intramonocathomeo" class="n"><rect x="3474" y="443" width="121" height="48"/><text x="3534.5" y="458">intracellular<tspan x="3534.5" dy="13.5">monoatomic cation</tspan><tspan x="3534.5" dy="13.5">homeostasis</tspan></text></g>
<g id="n_seqmetal" class="n"><rect x="3286" y="553" width="85" height="36"/><text x="3328.5" y="568.8">sequestering<tspan x="3328.5" dy="13.5">of metal ion</tspan></text></g>
<g id="n_intraznhomeo" class="n"><rect x="3466" y="532" width="135" height="78"/><rect class="mo" x="3466" y="568" width="69" height="22"/><rect class="mo" x="3535" y="568" width="66" height="22"/><rect class="ra" x="3466" y="590" width="69" height="20"/><rect class="ra" x="3535" y="590" width="66" height="20"/><text x="3533.5" y="547.8">intracellular<tspan x="3533.5" dy="13.5">zinc ion homeostasis</tspan></text><text x="3500.5" y="583.5">Mouse</text><text x="3568" y="583.5">Slc30a8</text><text x="3500.5" y="604.5">Rat</text><text x="3568" y="604.5">Slc30a8</text></g>
<g id="n_seqzn" class="n"><rect x="3253" y="668" width="115" height="57"/><rect class="hu" x="3253" y="703" width="51" height="22"/><rect class="hu" x="3304" y="703" width="64" height="22"/><text x="3310.5" y="683.3">sequestering<tspan x="3310.5" dy="13.5">of zinc ion</tspan></text><text x="3278.5" y="718.5">Human</text><text x="3336" y="718.5">SLC30A8</text></g>
<g id="n_multorgproc" class="n"><rect x="3654" y="103" width="123" height="36"/><text x="3715.5" y="118.8">multicellular<tspan x="3715.5" dy="13.5">organismal process</tspan></text></g>
<g id="n_anatdev" class="n"><rect x="3902" y="196" width="129" height="36"/><text x="3966.5" y="211.8">anatomical structure<tspan x="3966.5" dy="13.5">development</tspan></text></g>
<g id="n_multorgdev" class="n"><rect x="3726" y="275" width="142" height="35"/><text x="3797" y="290.3">multicellular<tspan x="3797" dy="13.5">organism development</tspan></text></g>
<g id="n_tissuedev" class="n"><rect x="4014" y="280" width="123" height="23"/><text x="4075.5" y="296">tissue development</text></g>
<g id="n_sysdev" class="n"><rect x="3763" y="366" width="131" height="23"/><text x="3828.5" y="382">system development</text></g>
<g id="n_epidev" class="n"><rect x="3990" y="366" width="147" height="23"/><text x="4063.5" y="382">epithelium development</text></g>
<g id="n_epicelldiff" class="n"><rect x="3777" y="449" width="88" height="36"/><text x="3821" y="464.8">epithelial cell<tspan x="3821" dy="13.5">differentiation</tspan></text></g>
<g id="n_endosysdev" class="n"><rect x="3963" y="449" width="114" height="36"/><text x="4020" y="464.8">endocrine system<tspan x="4020" dy="13.5">development</tspan></text></g>
<g id="n_epicelldev" class="n"><rect x="3705" y="553" width="86" height="36"/><text x="3748" y="568.8">epithelial cell<tspan x="3748" dy="13.5">development</tspan></text></g>
<g id="n_colcubdiff" class="n"><rect x="3836" y="547" width="115" height="48"/><text x="3893.5" y="562">columnar/cuboidal<tspan x="3893.5" dy="13.5">epithelial cell</tspan><tspan x="3893.5" dy="13.5">differentiation</tspan></text></g>
<g id="n_endopancdev" class="n"><rect x="4097" y="543" width="124" height="56"/><rect class="zf" x="4097" y="577" width="63" height="22"/><rect class="zf" x="4160" y="577" width="61" height="22"/><text x="4159" y="557.8">endocrine pancreas<tspan x="4159" dy="13.5">development</tspan></text><text x="4128.5" y="592.5">Zfish</text><text x="4190.5" y="592.5">slc30a8</text></g>
<g id="n_colcubdev" class="n"><rect x="3784" y="672" width="115" height="48"/><text x="3841.5" y="687">columnar/cuboidal<tspan x="3841.5" dy="13.5">epithelial cell</tspan><tspan x="3841.5" dy="13.5">development</tspan></text></g>
<g id="n_glandepidiff" class="n"><rect x="3944" y="678" width="117" height="36"/><text x="4002.5" y="693.8">glandular epithelial<tspan x="4002.5" dy="13.5">cell differentiation</tspan></text></g>
<g id="n_glandepidev" class="n"><rect x="3788" y="799" width="117" height="36"/><text x="3846.5" y="814.8">glandular epithelial<tspan x="3846.5" dy="13.5">cell development</tspan></text></g>
<g id="n_enteroendo" class="n"><rect x="3951" y="799" width="112" height="36"/><text x="4007" y="814.8">enteroendocrine<tspan x="4007" dy="13.5">cell differentiation</tspan></text></g>
<g id="n_typeBdiff" class="n"><rect x="3951" y="914" width="112" height="36"/><text x="4007" y="929.8">type B pancreatic<tspan x="4007" dy="13.5">cell differentiation</tspan></text></g>
<g id="n_typeBdev" class="n"><rect x="3883" y="1011" width="113" height="57"/><rect class="zf" x="3883" y="1047" width="57" height="21"/><rect class="zf" x="3940" y="1047" width="56" height="21"/><text x="3939.5" y="1026.8">type B pancreatic<tspan x="3939.5" dy="13.5">cell development</tspan></text><text x="3911.5" y="1062">Zfish</text><text x="3968" y="1062">slc30a8</text></g>
<g id="n_metab" class="n"><rect x="4358" y="111" width="117" height="22"/><text x="4416.5" y="126.5">metabolic process</text></g>
<g id="n_nitrometab" class="n"><rect x="4357" y="196" width="120" height="36"/><text x="4417" y="211.8">nitrogen compound<tspan x="4417" dy="13.5">metabolic process</tspan></text></g>
<g id="n_orgsubmetab" class="n"><rect x="4524" y="196" width="116" height="36"/><text x="4582" y="211.8">organic substance<tspan x="4582" dy="13.5">metabolic process</tspan></text></g>
<g id="n_animalorg" class="n"><rect x="4234" y="275" width="85" height="35"/><text x="4276.5" y="290.3">animal organ<tspan x="4276.5" dy="13.5">development</tspan></text></g>
<g id="n_amidemetab" class="n"><rect x="4364" y="275" width="105" height="35"/><text x="4416.5" y="290.3">amide metabolic<tspan x="4416.5" dy="13.5">process</tspan></text></g>
<g id="n_organonitro" class="n"><rect x="4515" y="268" width="130" height="48"/><text x="4580" y="283">organonitrogen<tspan x="4580" dy="13.5">compound metabolic</tspan><tspan x="4580" dy="13.5">process</tspan></text></g>
<g id="n_pancdev" class="n"><rect x="4233" y="366" width="142" height="23"/><text x="4304" y="382">pancreas development</text></g>
<g id="n_pepmetab" class="n"><rect x="4420" y="360" width="112" height="35"/><text x="4476" y="375.3">peptide metabolic<tspan x="4476" dy="13.5">process</tspan></text></g>
<g id="n_geneexp" class="n"><rect x="4578" y="366" width="106" height="23"/><text x="4631" y="382">gene expression</text></g>
<g id="n_protmat" class="n"><rect x="4562" y="455" width="115" height="22"/><text x="4619.5" y="470.5">protein maturation</text></g>
<g id="n_protproc" class="n"><rect x="4561" y="560" width="116" height="22"/><text x="4619" y="575.5">protein processing</text></g>
<g id="n_sigrecep" class="n"><rect x="4551" y="672" width="112" height="48"/><text x="4607" y="687">signaling receptor<tspan x="4607" dy="13.5">ligand precursor</tspan><tspan x="4607" dy="13.5">processing</tspan></text></g>
<g id="n_pephormproc" class="n"><rect x="4485" y="799" width="107" height="36"/><text x="4538.5" y="814.8">peptide hormone<tspan x="4538.5" dy="13.5">processing</tspan></text></g>
<g id="n_insproc" class="n"><rect x="4607" y="910" width="115" height="44"/><rect class="mo" x="4607" y="932" width="58" height="22"/><rect class="mo" x="4665" y="932" width="57" height="22"/><text x="4664.5" y="925.5">insulin processing</text><text x="4636" y="947.5">Mouse</text><text x="4693.5" y="947.5">Slc30a8</text></g>
<g id="n_bpinter" class="n"><rect x="4681" y="84" width="123" height="75"/><text x="4742.5" y="99">biological process<tspan x="4742.5" dy="13.5">involved in</tspan><tspan x="4742.5" dy="13.5">interspecies</tspan><tspan x="4742.5" dy="13.5">interaction</tspan><tspan x="4742.5" dy="13.5">between organisms</tspan></text></g>
<g id="n_primmetab" class="n"><rect x="4714" y="196" width="114" height="36"/><text x="4771" y="211.8">primary metabolic<tspan x="4771" dy="13.5">process</tspan></text></g>
<g id="n_macrometab" class="n"><rect x="4692" y="275" width="116" height="35"/><text x="4750" y="290.3">macromolecule<tspan x="4750" dy="13.5">metabolic process</tspan></text></g>
<g id="n_protmetab" class="n"><rect x="4729" y="360" width="110" height="35"/><text x="4784" y="375.3">protein metabolic<tspan x="4784" dy="13.5">process</tspan></text></g>
<g id="n_proteolysis" class="n"><rect x="4724" y="455" width="74" height="22"/><text x="4761" y="470.5">proteolysis</text></g>
<g id="n_insmetab" class="n"><rect x="4740" y="799" width="107" height="36"/><text x="4793.5" y="814.8">insulin metabolic<tspan x="4793.5" dy="13.5">process</tspan></text></g>
<g id="n_respbiotic" class="n"><rect x="4953" y="196" width="95" height="36"/><text x="5000.5" y="211.8">response to<tspan x="5000.5" dy="13.5">biotic stimulus</tspan></text></g>
<g id="n_respext" class="n"><rect x="5093" y="196" width="110" height="36"/><text x="5148" y="211.8">response to<tspan x="5148" dy="13.5">external stimulus</tspan></text></g>
<g id="n_respextbiotic" class="n"><rect x="4956" y="268" width="91" height="48"/><text x="5001.5" y="283">response to<tspan x="5001.5" dy="13.5">external biotic</tspan><tspan x="5001.5" dy="13.5">stimulus</tspan></text></g>
<g id="n_defresp" class="n"><rect x="5093" y="280" width="114" height="23"/><text x="5150" y="296">defense response</text></g>
<g id="n_respother" class="n"><rect x="4953" y="360" width="96" height="35"/><text x="5001" y="375.3">response to<tspan x="5001" dy="13.5">other organism</tspan></text></g>
<g id="n_defother" class="n"><rect x="5093" y="449" width="114" height="36"/><text x="5150" y="464.8">defense response<tspan x="5150" dy="13.5">to other organism</tspan></text></g>
<g id="n_respstim" class="n"><rect x="5176" y="103" width="79" height="36"/><text x="5215.5" y="118.8">response to<tspan x="5215.5" dy="13.5">stimulus</tspan></text></g>
<g id="n_immsys" class="n"><rect x="5434" y="103" width="103" height="36"/><text x="5485.5" y="118.8">immune system<tspan x="5485.5" dy="13.5">process</tspan></text></g>
<g id="n_respstress" class="n"><rect x="5249" y="196" width="79" height="36"/><text x="5288.5" y="211.8">response to<tspan x="5288.5" dy="13.5">stress</tspan></text></g>
<g id="n_respchem" class="n"><rect x="5373" y="196" width="79" height="36"/><text x="5412.5" y="211.8">response to<tspan x="5412.5" dy="13.5">chemical</tspan></text></g>
<g id="n_immresp" class="n"><rect x="5497" y="202" width="114" height="22"/><text x="5554" y="217.5">immune response</text></g>
<g id="n_resporgsub" class="n"><rect x="5252" y="275" width="116" height="35"/><text x="5310" y="290.3">response to<tspan x="5310" dy="13.5">organic substance</tspan></text></g>
<g id="n_respoxy" class="n"><rect x="5413" y="268" width="115" height="48"/><text x="5470.5" y="283">response to<tspan x="5470.5" dy="13.5">oxygen-containing</tspan><tspan x="5470.5" dy="13.5">compound</tspan></text></g>
<g id="n_respcyto" class="n"><rect x="5288" y="360" width="79" height="35"/><text x="5327.5" y="375.3">response to<tspan x="5327.5" dy="13.5">cytokine</tspan></text></g>
<g id="n_respcarb" class="n"><rect x="5427" y="360" width="86" height="35"/><text x="5470" y="375.3">response to<tspan x="5470" dy="13.5">carbohydrate</tspan></text></g>
<g id="n_respil1" class="n"><rect x="5279" y="438" width="97" height="57"/><rect class="ra" x="5279" y="474" width="41" height="21"/><rect class="ra" x="5320" y="474" width="56" height="21"/><text x="5327.5" y="453.8">response to<tspan x="5327.5" dy="13.5">interleukin-1</tspan></text><text x="5299.5" y="489">Rat</text><text x="5348" y="489">Slc30a8</text></g>
<g id="n_respmono" class="n"><rect x="5676" y="449" width="105" height="36"/><text x="5728.5" y="464.8">response to<tspan x="5728.5" dy="13.5">monosaccharide</tspan></text></g>
<g id="n_innate" class="n"><rect x="5484" y="553" width="95" height="36"/><text x="5531.5" y="568.8">innate immune<tspan x="5531.5" dy="13.5">response</tspan></text></g>
<g id="n_resphexose" class="n"><rect x="5689" y="553" width="79" height="36"/><text x="5728.5" y="568.8">response to<tspan x="5728.5" dy="13.5">hexose</tspan></text></g>
<g id="n_resptypeII" class="n"><rect x="5497" y="668" width="110" height="57"/><rect class="ra" x="5497" y="703" width="53" height="22"/><rect class="ra" x="5550" y="703" width="57" height="22"/><text x="5552" y="683.3">response to<tspan x="5552" dy="13.5">type II interferon</tspan></text><text x="5523.5" y="718.5">Rat</text><text x="5578.5" y="718.5">Slc30a8</text></g>
<g id="n_respglucose" class="n"><rect x="5672" y="647" width="115" height="99"/><rect class="hu" x="5672" y="682" width="51" height="21"/><rect class="hu" x="5723" y="682" width="64" height="21"/><rect class="mo" x="5672" y="703" width="51" height="21"/><rect class="mo" x="5723" y="703" width="64" height="21"/><rect class="ra" x="5672" y="724" width="51" height="22"/><rect class="ra" x="5723" y="724" width="64" height="22"/><text x="5729.5" y="662.3">response to<tspan x="5729.5" dy="13.5">glucose</tspan></text><text x="5697.5" y="697">Human</text><text x="5755" y="697">SLC30A8</text><text x="5697.5" y="718">Mouse</text><text x="5755" y="718">Slc30a8</text><text x="5697.5" y="739.5">Rat</text><text x="5755" y="739.5">Slc30a8</text></g>
</g>
</svg>
